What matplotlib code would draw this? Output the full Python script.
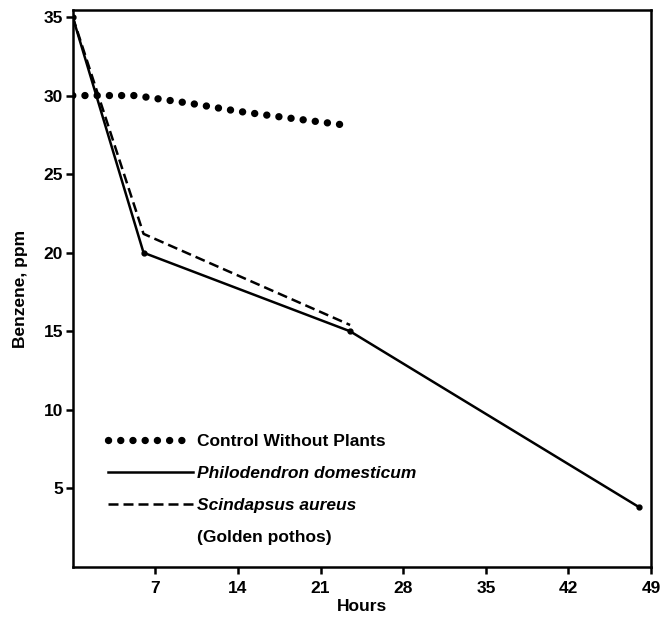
import matplotlib
matplotlib.use("Agg")
import matplotlib.pyplot as plt
from matplotlib.lines import Line2D

plt.rcParams['font.family'] = ['Liberation Sans', 'DejaVu Sans']

# Data
control_hours = [0, 5.3, 8.1, 10.0, 14.0, 18.0, 23.3]
control_ppm = [30.0, 30.0, 29.7, 29.5, 29.0, 28.6, 28.1]

philo_hours = [0, 6, 23.5, 48]
philo_ppm = [35, 20.0, 15.0, 3.8]

scind_hours = [0, 6, 23.5]
scind_ppm = [35, 21.2, 15.4]

xticks = [7, 14, 21, 28, 35, 42, 49]
yticks = [5, 10, 15, 20, 25, 30, 35]

fig = plt.figure(figsize=(6.61, 6.19), dpi=100)
ax = fig.add_axes([0.110, 0.084, 0.875, 0.900])

dot_style = (0, (0.01, 1.65))
dash_style = (0, (4, 2))
ax.plot(control_hours, control_ppm, color='black', lw=5.3,
        linestyle=dot_style, dash_capstyle='round', solid_capstyle='round')
ax.plot(philo_hours, philo_ppm, color='black', lw=1.8,
        marker='o', markersize=3.5)
ax.plot(scind_hours, scind_ppm, color='black', lw=1.8,
        linestyle=dash_style)

ax.set_xlim(0, 49)
ax.set_ylim(0, 35.45)
ax.set_xticks(xticks)
ax.set_yticks(yticks)
ax.set_xticklabels([str(t) for t in xticks])
ax.set_yticklabels([str(t) for t in yticks])
ax.tick_params(axis='both', direction='out', length=5, width=1.8,
               labelsize=12.5, pad=2)
ax.tick_params(axis='x', pad=5)
for lab in ax.get_xticklabels() + ax.get_yticklabels():
    lab.set_fontweight('bold')
for s in ax.spines.values():
    s.set_linewidth(1.8)

ax.set_xlabel('Hours', fontsize=12.5, fontweight='bold', labelpad=2)
ax.set_ylabel('Benzene, ppm', fontsize=12.5, fontweight='bold', labelpad=11)

handles = [
    Line2D([], [], color='black', lw=5.3, linestyle=dot_style, dash_capstyle='round'),
    Line2D([], [], color='black', lw=1.8),
    Line2D([], [], color='black', lw=1.8, linestyle=dash_style),
    Line2D([], [], color='none', lw=0),
]
labels = ['Control Without Plants', 'Philodendron domesticum',
          'Scindapsus aureus', '(Golden pothos)']
leg = ax.legend(handles, labels, loc='upper left', bbox_to_anchor=(0.049, 0.252),
                frameon=False, fontsize=12.5, handlelength=4.9,
                handletextpad=0.25, labelspacing=0.97, borderaxespad=0)
for i, t in enumerate(leg.get_texts()):
    t.set_fontweight('bold')
    if i in (1, 2):
        t.set_fontstyle('italic')

fig.savefig('out.png', dpi=100)
